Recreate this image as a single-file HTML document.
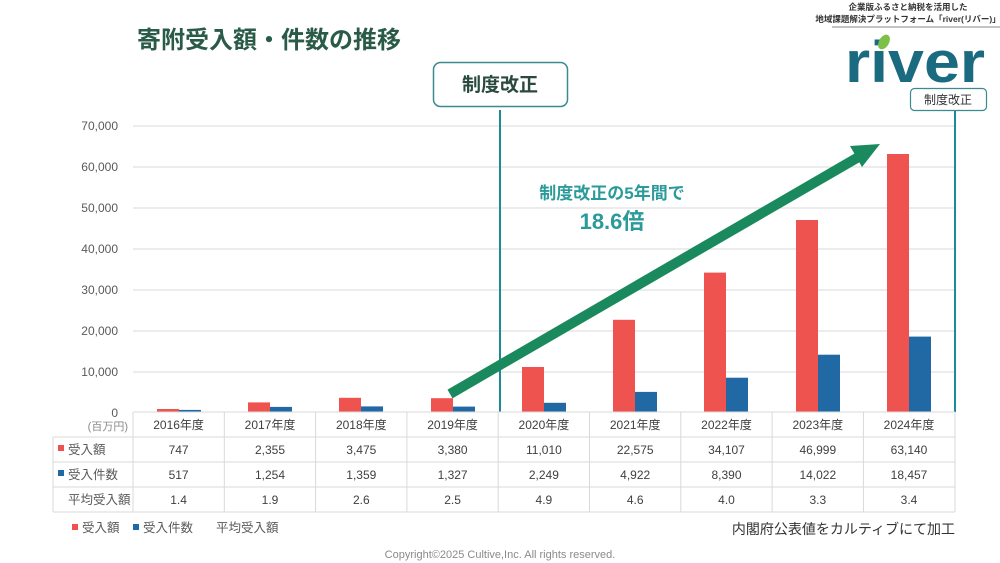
<!DOCTYPE html>
<html><head><meta charset="utf-8"><style>
html,body{margin:0;padding:0;background:#fff;}
svg{display:block;font-family:"Liberation Sans","Noto Sans CJK JP",sans-serif;}
</style></head><body>
<svg width="1000" height="563" viewBox="0 0 1000 563" xmlns="http://www.w3.org/2000/svg">
<rect width="1000" height="563" fill="#fff"/>
<text x="137" y="48" font-size="24" font-weight="bold" fill="#2a5a48">寄附受入額・件数の推移</text>
<!-- logo -->
<text x="908" y="10" font-size="8.5" font-weight="bold" fill="#333" text-anchor="middle">企業版ふるさと納税を活用した</text>
<text x="908" y="22" font-size="8.5" font-weight="bold" fill="#333" text-anchor="middle">地域課題解決プラットフォーム「river(リバー)」</text>
<line x1="832" y1="27" x2="1000" y2="27" stroke="#888" stroke-width="1"/>
<text x="845" y="82" font-size="58" font-weight="bold" fill="#1a6a80" textLength="140" lengthAdjust="spacingAndGlyphs">river</text>
<ellipse cx="884" cy="42" rx="5" ry="8" fill="#7cc04a" transform="rotate(30 884 42)"/>
<!-- grid -->
<g stroke="#d9d9d9" stroke-width="1">
<line x1="133" y1="126" x2="955" y2="126"/><line x1="133" y1="167" x2="955" y2="167"/>
<line x1="133" y1="208" x2="955" y2="208"/><line x1="133" y1="249" x2="955" y2="249"/>
<line x1="133" y1="290" x2="955" y2="290"/><line x1="133" y1="331" x2="955" y2="331"/>
<line x1="133" y1="372" x2="955" y2="372"/>
</g>
<g font-size="12" fill="#595959" text-anchor="end">
<text x="118" y="130">70,000</text><text x="118" y="171">60,000</text><text x="118" y="212">50,000</text>
<text x="118" y="253">40,000</text><text x="118" y="294">30,000</text><text x="118" y="335">20,000</text>
<text x="118" y="376">10,000</text><text x="118" y="417">0</text>
</g>
<!-- bars -->
<g fill="#ee5350">
<rect x="157" y="409" width="22" height="3"/><rect x="248" y="402.4" width="22" height="9.6"/>
<rect x="339" y="397.8" width="22" height="14.2"/><rect x="431" y="398.2" width="22" height="13.8"/>
<rect x="522" y="367" width="22" height="45"/><rect x="613" y="319.8" width="22" height="92.2"/>
<rect x="704" y="272.6" width="22" height="139.4"/><rect x="796" y="220" width="22" height="192"/>
<rect x="887" y="154" width="22" height="258"/>
</g>
<g fill="#2169a4">
<rect x="179" y="409.9" width="22" height="2.1"/><rect x="270" y="406.9" width="22" height="5.1"/>
<rect x="361" y="406.4" width="22" height="5.6"/><rect x="453" y="406.6" width="22" height="5.4"/>
<rect x="544" y="402.8" width="22" height="9.2"/><rect x="635" y="391.9" width="22" height="20.1"/>
<rect x="726" y="377.7" width="22" height="34.3"/><rect x="818" y="354.7" width="22" height="57.3"/>
<rect x="909" y="336.6" width="22" height="75.4"/>
</g>
<!-- vertical lines & boxes -->
<line x1="500" y1="110" x2="500" y2="412" stroke="#1e8a96" stroke-width="2"/>
<line x1="955" y1="110" x2="955" y2="412" stroke="#1e8a96" stroke-width="2"/>
<rect x="433.5" y="62.5" width="134" height="44" rx="7" fill="#fff" stroke="#3a8a8e" stroke-width="1.5"/>
<text x="500" y="91" font-size="19" font-weight="bold" fill="#2a4a40" text-anchor="middle">制度改正</text>
<rect x="910.5" y="88.5" width="76" height="22" rx="4" fill="#fff" stroke="#3a8a8e" stroke-width="1.2"/>
<text x="948" y="104" font-size="12" fill="#333" text-anchor="middle">制度改正</text>
<!-- arrow -->
<line x1="450" y1="394" x2="862" y2="155" stroke="#1a8a5e" stroke-width="10"/>
<polygon points="880,144 850,146 862,167" fill="#1a8a5e"/>
<text x="612" y="199" font-size="17" font-weight="bold" fill="#2a9a9a" text-anchor="middle">制度改正の5年間で</text>
<text x="612" y="229" font-size="22" font-weight="bold" fill="#2a9a9a" text-anchor="middle">18.6倍</text>
<!-- table -->
<g stroke="#d9d9d9" stroke-width="1" fill="none">
<line x1="133" y1="412" x2="955" y2="412"/>
<line x1="53" y1="437" x2="955" y2="437"/><line x1="53" y1="462" x2="955" y2="462"/>
<line x1="53" y1="487" x2="955" y2="487"/><line x1="53" y1="512" x2="955" y2="512"/>
<line x1="53" y1="437" x2="53" y2="512"/>
<line x1="133" y1="412" x2="133" y2="512"/><line x1="224.3" y1="412" x2="224.3" y2="512"/>
<line x1="315.6" y1="412" x2="315.6" y2="512"/><line x1="406.9" y1="412" x2="406.9" y2="512"/>
<line x1="498.2" y1="412" x2="498.2" y2="512"/><line x1="589.5" y1="412" x2="589.5" y2="512"/>
<line x1="680.8" y1="412" x2="680.8" y2="512"/><line x1="772.1" y1="412" x2="772.1" y2="512"/>
<line x1="863.4" y1="412" x2="863.4" y2="512"/><line x1="955" y1="412" x2="955" y2="512"/>
</g>
<text x="128" y="430" font-size="11" fill="#8a8a8a" text-anchor="end">(百万円)</text>
<g font-size="12" fill="#404040" text-anchor="middle">
<text x="178.6" y="429">2016年度</text><text x="270" y="429">2017年度</text><text x="361.3" y="429">2018年度</text>
<text x="452.6" y="429">2019年度</text><text x="543.9" y="429">2020年度</text><text x="635.2" y="429">2021年度</text>
<text x="726.5" y="429">2022年度</text><text x="817.8" y="429">2023年度</text><text x="909" y="429">2024年度</text>
<text x="178.6" y="454">747</text><text x="270" y="454">2,355</text><text x="361.3" y="454">3,475</text>
<text x="452.6" y="454">3,380</text><text x="543.9" y="454">11,010</text><text x="635.2" y="454">22,575</text>
<text x="726.5" y="454">34,107</text><text x="817.8" y="454">46,999</text><text x="909" y="454">63,140</text>
<text x="178.6" y="479">517</text><text x="270" y="479">1,254</text><text x="361.3" y="479">1,359</text>
<text x="452.6" y="479">1,327</text><text x="543.9" y="479">2,249</text><text x="635.2" y="479">4,922</text>
<text x="726.5" y="479">8,390</text><text x="817.8" y="479">14,022</text><text x="909" y="479">18,457</text>
<text x="178.6" y="504">1.4</text><text x="270" y="504">1.9</text><text x="361.3" y="504">2.6</text>
<text x="452.6" y="504">2.5</text><text x="543.9" y="504">4.9</text><text x="635.2" y="504">4.6</text>
<text x="726.5" y="504">4.0</text><text x="817.8" y="504">3.3</text><text x="909" y="504">3.4</text>
</g>
<rect x="58" y="445" width="6" height="6" fill="#ee5350"/>
<rect x="58" y="470" width="6" height="6" fill="#2169a4"/>
<g font-size="12.5" fill="#595959">
<text x="68" y="454">受入額</text><text x="68" y="479">受入件数</text><text x="68" y="504">平均受入額</text>
</g>
<rect x="72" y="524" width="6" height="6" fill="#ee5350"/>
<rect x="133" y="524" width="6" height="6" fill="#2169a4"/>
<g font-size="12.5" fill="#595959">
<text x="82" y="532">受入額</text><text x="143" y="532">受入件数</text><text x="216" y="532">平均受入額</text>
</g>
<text x="955" y="534" font-size="14" fill="#333" text-anchor="end">内閣府公表値をカルティブにて加工</text>
<text x="500" y="558" font-size="11" fill="#8a8a8a" text-anchor="middle">Copyright©2025 Cultive,Inc. All rights reserved.</text>
</svg>
</body></html>
